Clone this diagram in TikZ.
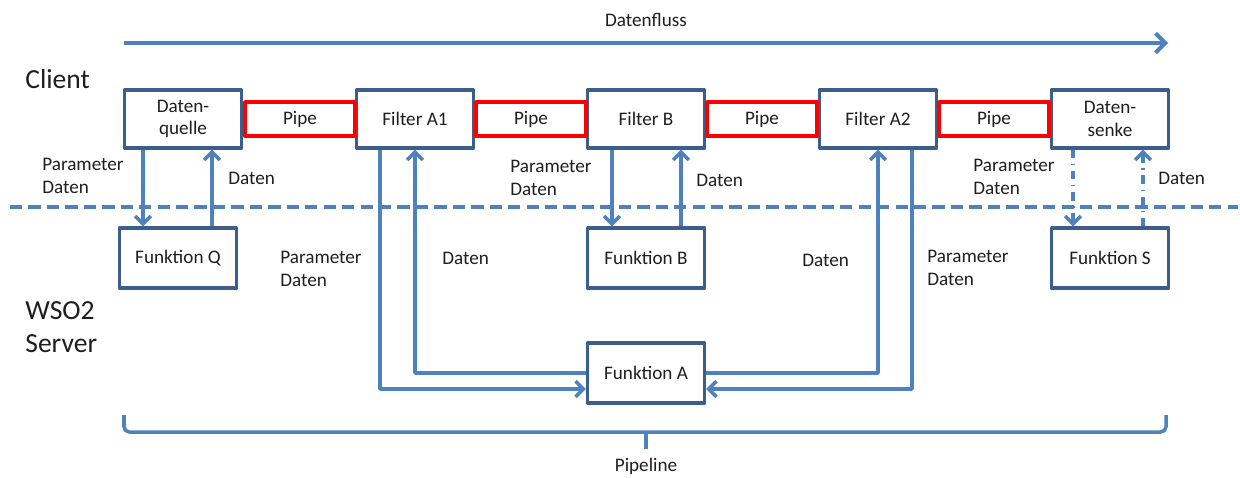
\documentclass[tikz,border=0pt]{standalone}
\usepackage{fontspec}
\setmainfont{Carlito}
\usetikzlibrary{arrows.meta}
\definecolor{linienblau}{HTML}{4F81BD}
\definecolor{rahmenblau}{HTML}{3B5E8C}
\definecolor{textgrau}{HTML}{1E1E1E}
\begin{document}
\begin{tikzpicture}[x=0.02cm, y=-0.02cm, line join=round, >={Straight Barb[length=4.5pt,width=9pt]}, font=\fontsize{10.9}{12.8}\selectfont]
\tikzset{box/.style={draw=rahmenblau, line width=1.8pt, fill=white, minimum width=2.34cm, minimum height=1.16cm, inner sep=1pt, align=center, text=textgrau},
  pipe/.style={draw=red, line width=2.2pt, minimum width=2.2cm, minimum height=0.68cm, text=textgrau},
  fluss/.style={draw=linienblau, line width=2pt},
  strichpunkt/.style={fluss, dash pattern=on 5pt off 3pt on 1pt off 3pt},
  beschriftung/.style={inner sep=0pt, anchor=west, align=left, text=textgrau}}
\useasboundingbox (0,0) rectangle (1240,477);
% Datenfluss oben
\node[text=textgrau] (flusstext) at (646,20) {Datenfluss};
\coordinate (fl0) at (124,43);
\coordinate (fl1) at (1168,43);
\draw[fluss, line width=2.3pt, -{Straight Barb[length=5.5pt,width=11pt]}] (fl0) -- (fl1);
% Trennlinie Client / Server
\coordinate (sep0) at (10,207);
\coordinate (sep1) at (1238,207);
\draw[fluss, line width=2.2pt, dash pattern=on 7pt off 3.5pt] (sep0) -- (sep1);
\node[beschriftung, font=\fontsize{15.7}{18.7}\selectfont] (client) at (25,79) {Client};
\node[beschriftung, font=\fontsize{15.7}{18.7}\selectfont] (server) at (25,327) {WSO2\\Server};
% Client-Knoten
\node[box] (quelle) at (183,119) {Daten-\\quelle};
\node[box] (fa1) at (415,119) {Filter A1};
\node[box] (fb) at (646,119) {Filter B};
\node[box] (fa2) at (878,119) {Filter A2};
\node[box] (senke) at (1110,119) {Daten-\\senke};
% Pipes
\foreach \x/\n in {300/1,531/2,762/3,994/4}
{
	\node[pipe] (pipe\n) at (\x,119) {Pipe};
}
% Server-Knoten
\node[box, minimum height=1.2cm] (fq) at (178,258) {Funktion Q};
\node[box, minimum height=1.2cm] (fkb) at (646,258) {Funktion B};
\node[box, minimum height=1.2cm] (fs) at (1110,258) {Funktion S};
\node[box, minimum height=1.2cm] (fka) at (646,373) {Funktion A};
% Verbindungen
\draw[fluss,->] ([xshift=-0.8cm]quelle.south) -- ([xshift=-0.8cm]quelle.south |- fq.north);
\draw[fluss,->] ([xshift=0.58cm]quelle.south |- fq.north) -- ([xshift=0.58cm]quelle.south);
\draw[fluss,->] ([xshift=-0.68cm]fb.south) -- ([xshift=-0.68cm]fb.south |- fkb.north);
\draw[fluss,->] ([xshift=0.7cm]fb.south |- fkb.north) -- ([xshift=0.7cm]fb.south);
\draw[strichpunkt,->] ([xshift=-0.74cm]senke.south) -- ([xshift=-0.74cm]senke.south |- fs.north);
\draw[strichpunkt,->] ([xshift=0.66cm]senke.south |- fs.north) -- ([xshift=0.66cm]senke.south);
\draw[fluss,->] ([xshift=-0.7cm]fa1.south) |- ([yshift=-0.32cm]fka.west);
\draw[fluss,->] (fka.west) -| (fa1.south);
\draw[fluss,->] (fka.east) -| (fa2.south);
\draw[fluss,->] ([xshift=0.68cm]fa2.south) |- ([yshift=-0.32cm]fka.east);
% Beschriftungen
\node[beschriftung] (lq1) at (42,176) {Parameter\\Daten};
\node[beschriftung] (lq2) at (228,178) {Daten};
\node[beschriftung] (lb1) at (510,178) {Parameter\\Daten};
\node[beschriftung] (lb2) at (696,180) {Daten};
\node[beschriftung] (ls1) at (973,177) {Parameter\\Daten};
\node[beschriftung] (ls2) at (1158,178) {Daten};
\node[beschriftung] (la1) at (280,269) {Parameter\\Daten};
\node[beschriftung] (la2) at (442,258) {Daten};
\node[beschriftung] (la3) at (802,260) {Daten};
\node[beschriftung] (la4) at (927,268) {Parameter\\Daten};
% Pipeline-Klammer
\coordinate (pl0) at (124,415);
\coordinate (pl1) at (1166,415);
\coordinate (plmitte) at (646,432);
\draw[fluss, rounded corners=3pt] (pl0) |- (plmitte) -| (pl1);
\draw[fluss] (plmitte) -- ++(0,17);
\node[text=textgrau] (pipeline) at (646,466) {Pipeline};
\end{tikzpicture}
\end{document}
